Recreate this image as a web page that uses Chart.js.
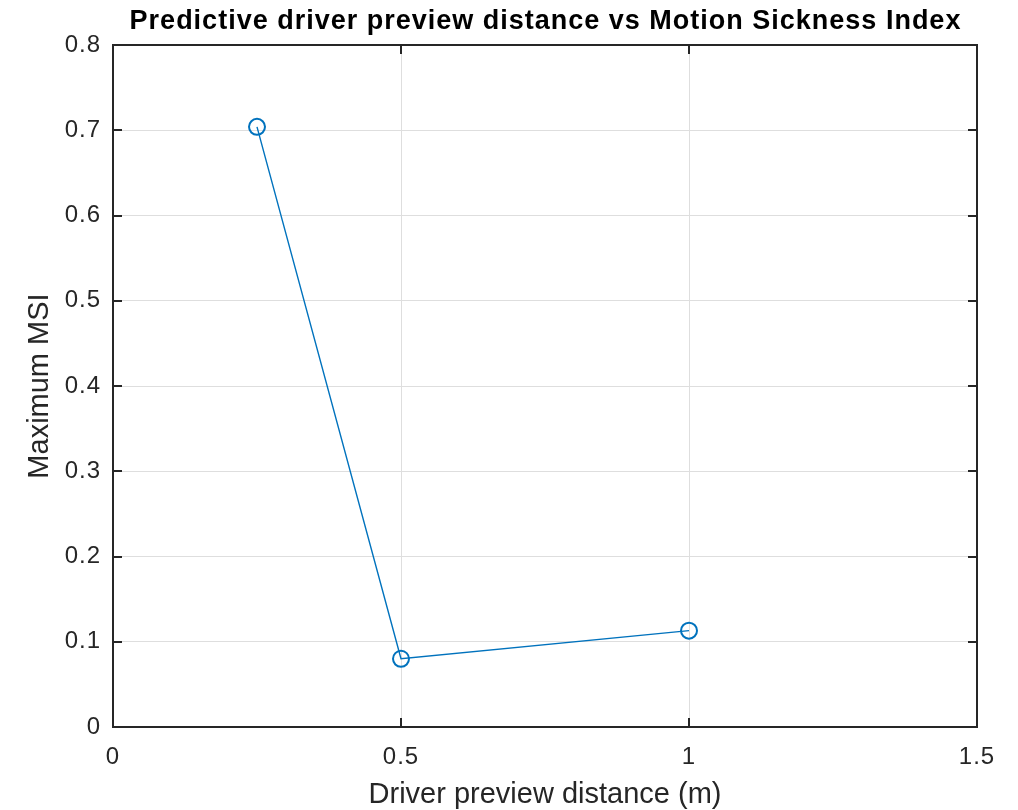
<!DOCTYPE html>
<html><head><meta charset="utf-8">
<script src="https://cdn.jsdelivr.net/npm/chart.js@4/dist/chart.umd.min.js"></script>
<style>html,body{margin:0;padding:0;background:#fff}#wrap{width:1018px;height:810px}</style>
</head><body><div id="wrap"><canvas id="c" width="1018" height="810"></canvas></div>
<script>
const previewDistance = [0.25, 0.5, 1];
const maxMSI = [0.704, 0.080, 0.113];
const xTicks = [0, 0.5, 1, 1.5];
const yTicks = [0, 0.1, 0.2, 0.3, 0.4, 0.5, 0.6, 0.7, 0.8];
const titleText = 'Predictive driver preview distance vs Motion Sickness Index';
const xLabel = 'Driver preview distance (m)';
const yLabel = 'Maximum MSI';

const AX = '#262626';
const FONT = '"Liberation Sans", Arial, Helvetica, sans-serif';

const spacingPlugin = {
  id: 'spacing',
  beforeDraw(chart) { chart.ctx.letterSpacing = '1px'; }
};

const framePlugin = {
  id: 'frame',
  afterDatasetsDraw(chart) {
    const {ctx, chartArea: a, scales} = chart;
    ctx.save();
    ctx.strokeStyle = AX;
    ctx.lineWidth = 2;
    ctx.beginPath();
    const tl = 9;
    xTicks.forEach(v => {
      const px = Math.round(scales.x.getPixelForValue(v));
      ctx.moveTo(px, a.bottom); ctx.lineTo(px, a.bottom - tl);
      ctx.moveTo(px, a.top); ctx.lineTo(px, a.top + tl);
    });
    yTicks.forEach(v => {
      const py = Math.round(scales.y.getPixelForValue(v));
      ctx.moveTo(a.left, py); ctx.lineTo(a.left + tl, py);
      ctx.moveTo(a.right, py); ctx.lineTo(a.right - tl, py);
    });
    ctx.stroke();
    ctx.strokeRect(a.left, a.top, a.right - a.left, a.bottom - a.top);
    ctx.restore();
  },
  afterDraw(chart) {
    const {ctx, chartArea: a} = chart;
    const cx = (a.left + a.right) / 2;
    const cy = (a.top + a.bottom) / 2;
    ctx.save();
    ctx.textAlign = 'center';
    ctx.textBaseline = 'alphabetic';
    ctx.fillStyle = '#000';
    ctx.font = 'bold 27px ' + FONT;
    ctx.letterSpacing = '1px';
    ctx.fillText(titleText, cx + 0.5, 29);
    ctx.fillStyle = AX;
    ctx.font = '29px ' + FONT;
    ctx.letterSpacing = '0px';
    ctx.fillText(xLabel, cx, 803);
    ctx.translate(48, cy);
    ctx.rotate(-Math.PI / 2);
    ctx.fillText(yLabel, 0, 0);
    ctx.restore();
  }
};

new Chart(document.getElementById('c'), {
  type: 'scatter',
  data: {
    datasets: [{
      data: previewDistance.map((x, i) => ({x, y: maxMSI[i]})),
      showLine: true,
      borderColor: '#0072BD',
      borderWidth: 1.4,
      pointRadius: 8,
      pointHoverRadius: 8,
      pointBorderWidth: 2,
      pointBackgroundColor: 'rgba(0,0,0,0)',
      pointBorderColor: '#0072BD'
    }]
  },
  options: {
    responsive: false,
    animation: false,
    events: [],
    layout: {padding: {top: 45, right: 41, left: 0, bottom: 0}},
    plugins: {legend: {display: false}, tooltip: {enabled: false}},
    scales: {
      x: {
        type: 'linear', min: 0, max: 1.5,
        afterBuildTicks: s => { s.ticks = xTicks.map(v => ({value: v})); },
        afterFit: s => { s.height = 83; },
        grid: {color: '#dedede', lineWidth: 1, drawTicks: false},
        border: {display: false},
        ticks: {color: AX, font: {family: FONT, size: 24}, padding: 16,
          callback: v => String(v)},
        title: {display: false}
      },
      y: {
        type: 'linear', min: 0, max: 0.8,
        afterBuildTicks: s => { s.ticks = yTicks.map(v => ({value: v})); },
        afterFit: s => { s.width = 113; },
        grid: {color: '#dedede', lineWidth: 1, drawTicks: false},
        border: {display: false},
        ticks: {color: AX, font: {family: FONT, size: 24}, padding: 12,
          callback: v => String(v)},
        title: {display: false}
      }
    }
  },
  plugins: [spacingPlugin, framePlugin]
});
</script>
</body></html>
